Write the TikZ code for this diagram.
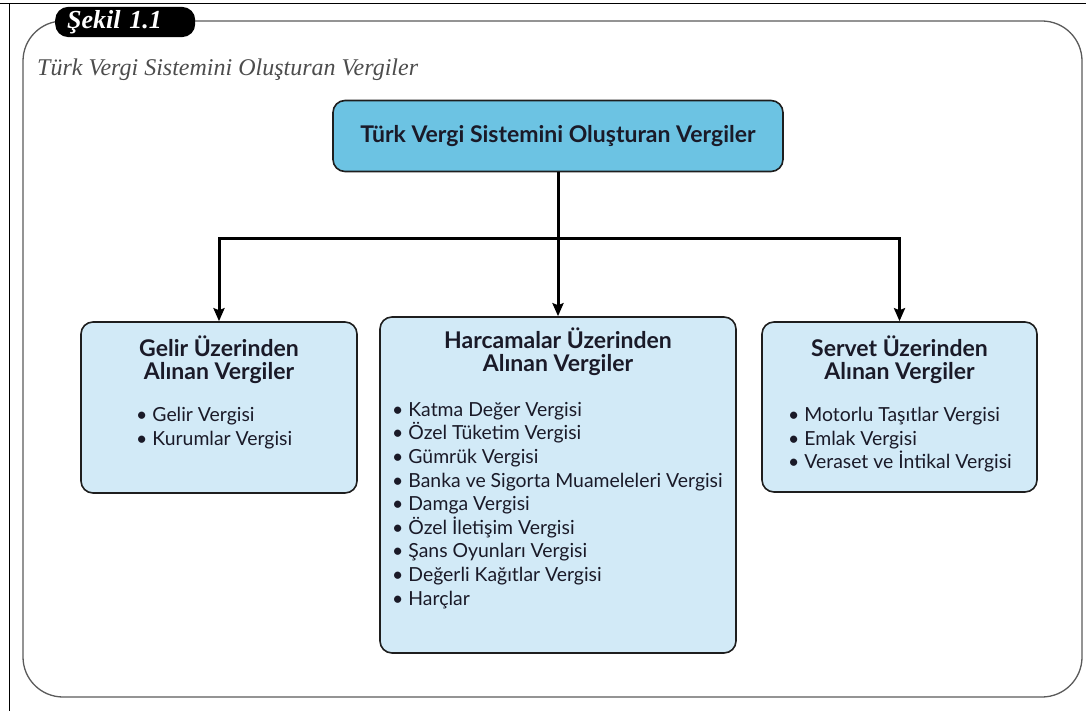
\documentclass[tikz,border=0pt]{standalone}
\usepackage{fontspec}
\setmainfont{Lato}
\newfontfamily\serifyazi{Liberation Serif}
\usetikzlibrary{positioning,arrows.meta}
\definecolor{koyumavi}{HTML}{6CC3E3}
\definecolor{acikmavi}{HTML}{D2EAF7}
\definecolor{kenar}{HTML}{1E1E1E}
\definecolor{cerceve}{HTML}{5A5A5A}
\definecolor{yazi}{HTML}{1A1A28}
\tikzset{
  kutu/.style={draw=kenar, line width=1.6pt, rounded corners=12pt, fill=acikmavi},
  baslik/.style={font=\bfseries\fontsize{23}{23}\selectfont, align=center, text=yazi, inner sep=0pt},
  liste/.style={font=\fontsize{19.4}{23.6}\selectfont, align=left, text=yazi, inner sep=0pt},
  ok/.style={-{Stealth[length=13pt,width=11pt,inset=2pt]}, line width=3pt}
}
\begin{document}
\begin{tikzpicture}[x=1pt,y=-1pt]
\useasboundingbox (0,0) rectangle (1086,711);
% sayfa kenari
\draw[line width=1pt] (0,4) -- (1086,4);
\draw[line width=1pt] (9,4) -- (9,711);
% yuvarlak cerceve
\draw[cerceve, line width=1.3pt, rounded corners=40pt] (23,21) rectangle (1082,697);
\node[fill=black, text=white, rounded corners=13pt, anchor=west, text width=116pt, inner xsep=12pt,
  align=left, minimum height=27pt, font=\serifyazi\bfseries\itshape\fontsize{26}{26}\selectfont]
  (sekil) at (55,22) {Şekil 1.1};
\node[anchor=west, inner sep=0pt, text=black!70, font=\serifyazi\itshape\fontsize{24}{24}\selectfont]
  (altbaslik) at (37,70) {Türk Vergi Sistemini Oluşturan Vergiler};
% kutular
\node[kutu, fill=koyumavi, minimum width=450pt, minimum height=71pt] (vergi) at (558,136) {};
\node[baslik] (vergib) at (vergi.center) {Türk Vergi Sistemini Oluşturan Vergiler};
\node[kutu, minimum width=276pt, minimum height=171pt] (gelir) at (219,407.5) {};
\node[kutu, minimum width=356pt, minimum height=336pt] (harcama) at (558,485) {};
\node[kutu, minimum width=275pt, minimum height=170pt] (servet) at (899.5,407) {};
% basliklar
\node[baslik, below=14pt of gelir.north] (gelirb) {Gelir Üzerinden\\Alınan Vergiler};
\node[baslik, below=11pt of harcama.north] (harcamab) {Harcamalar Üzerinden\\Alınan Vergiler};
\node[baslik, below=14pt of servet.north] (servetb) {Servet Üzerinden\\Alınan Vergiler};
% listeler
\node[liste, anchor=north west] (gelirl) at (136,407) {• Gelir Vergisi\\• Kurumlar Vergisi};
\node[liste, anchor=north west] (harcamal) at (392,402)
  {• Katma Değer Vergisi\\• Özel Tüketim Vergisi\\• Gümrük Vergisi\\%
   • Banka ve Sigorta Muameleleri Vergisi\\• Damga Vergisi\\• Özel İletişim Vergisi\\%
   • Şans Oyunları Vergisi\\• Değerli Kağıtlar Vergisi\\• Harçlar};
\node[liste, anchor=north west] (servetl) at (788,407)
  {• Motorlu Taşıtlar Vergisi\\• Emlak Vergisi\\• Veraset ve İntikal Vergisi};
% oklar
\coordinate (dal) at (558,239);
\draw[line width=3pt] (vergi.south) -- (dal);
\draw[ok] (dal) -| (gelir.north);
\draw[ok] (dal) -- (harcama.north);
\draw[ok] (dal) -| (servet.north);
\end{tikzpicture}
\end{document}
